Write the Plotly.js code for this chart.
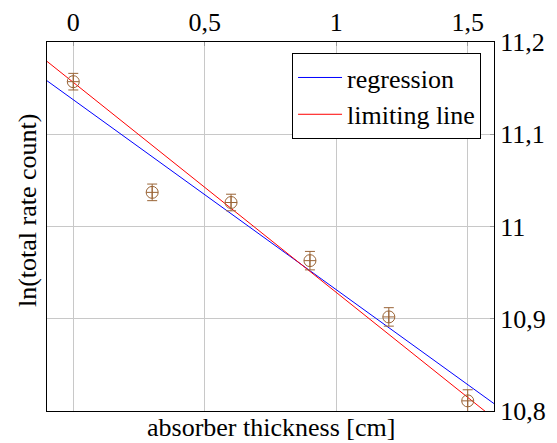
<!DOCTYPE html>
<html>
<head>
<meta charset="utf-8">
<script src="https://cdn.plot.ly/plotly-3.0.1.min.js"></script>
<style>html,body{margin:0;padding:0;background:#fff;}#chart{width:557px;height:443px;}</style>
</head>
<body>
<div id="chart"></div>
<script>
// Data
var thickness = [0, 0.3, 0.6, 0.9, 1.2, 1.5];
var lnRate = [11.157, 11.037, 11.026, 10.963, 10.902, 10.811];
var lnRateErr = [0.009, 0.009, 0.009, 0.010, 0.010, 0.012];

var regressionX = [-0.1, 1.6];
var regressionY = [11.158, 10.808];
var limitingX = [-0.1, 1.6];
var limitingY = [11.179, 10.792];

var xTickVals = [0, 0.5, 1, 1.5];
var yTickVals = [10.8, 10.9, 11, 11.1, 11.2];

var FONT = 'Liberation Serif';
var FS = 26;
var brown = '#9a6436';

var traces = [
  {
    x: regressionX, y: regressionY, mode: 'lines', name: 'regression',
    line: {color: '#0000ff', width: 1}
  },
  {
    x: limitingX, y: limitingY, mode: 'lines', name: 'limiting line',
    line: {color: '#ff0000', width: 1}
  },
  {
    x: thickness, y: lnRate, mode: 'markers', name: 'data', showlegend: false,
    marker: {symbol: 'circle-cross-open', size: 12, color: brown, line: {width: 1, color: brown}},
    error_y: {type: 'data', array: lnRateErr, visible: true, color: brown, thickness: 1, width: 5}
  }
];

var layout = {
  width: 557, height: 443,
  margin: {l: 47, r: 63, t: 42, b: 32},
  paper_bgcolor: '#fff', plot_bgcolor: '#fff',
  separators: ',.',
  font: {family: FONT, size: FS, color: '#000'},
  showlegend: true,
  legend: {
    x: 0.971, y: 0.970, xanchor: 'right', yanchor: 'top',
    bgcolor: '#fff', bordercolor: '#000', borderwidth: 1,
    font: {family: FONT, size: FS, color: '#000'},
    itemwidth: 44,
    tracegroupgap: 0
  },
  xaxis: {
    side: 'top', range: [-0.1, 1.6], tickvals: xTickVals,
    showgrid: true, gridcolor: '#c8c8c8', gridwidth: 1,
    zeroline: false, showline: true, linecolor: '#000', linewidth: 1, mirror: true,
    ticks: 'inside', ticklen: 4, tickcolor: '#999',
    tickfont: {family: FONT, size: FS, color: '#000'}
  },
  yaxis: {
    side: 'right', range: [10.8, 11.2], tickvals: yTickVals,
    showgrid: true, gridcolor: '#c8c8c8', gridwidth: 1,
    zeroline: false, showline: true, linecolor: '#000', linewidth: 1, mirror: true,
    ticks: 'inside', ticklen: 4, tickcolor: '#999',
    tickfont: {family: FONT, size: FS, color: '#000'}
  },
  annotations: [
    {
      text: 'absorber thickness [cm]', xref: 'paper', yref: 'paper',
      x: 0.5, y: -0.045, xanchor: 'center', yanchor: 'middle', showarrow: false,
      font: {family: FONT, size: FS, color: '#000'}
    },
    {
      text: 'ln(total rate count)', xref: 'paper', yref: 'paper',
      x: -0.0447, y: 0.542, xanchor: 'center', yanchor: 'middle', showarrow: false,
      textangle: -90,
      font: {family: FONT, size: FS, color: '#000'}
    }
  ]
};

Plotly.newPlot('chart', traces, layout, {displayModeBar: false, staticPlot: true});
</script>
</body>
</html>
